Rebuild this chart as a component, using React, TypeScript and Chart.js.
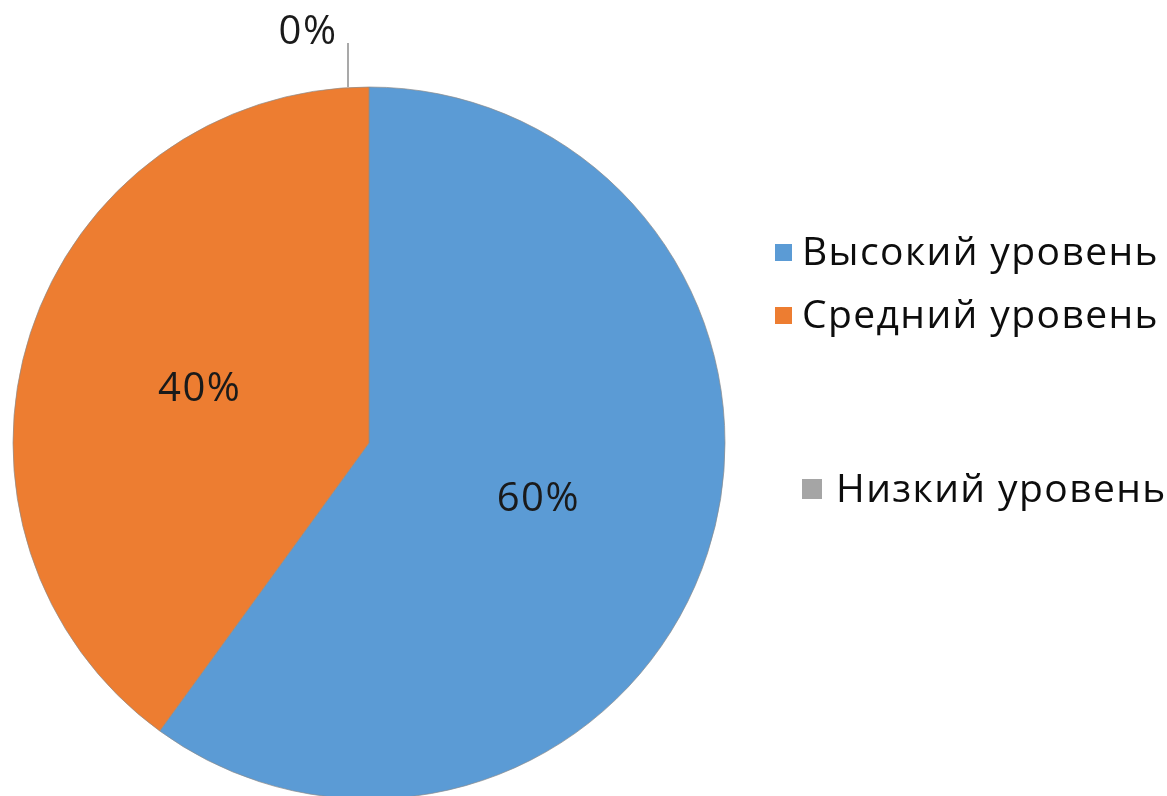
import React, { useEffect, useRef } from "react";
import { Chart, registerables } from "chart.js";

Chart.register(...registerables);

const categories = ["Высокий уровень", "Средний уровень", "Низкий уровень"];
const values = [60, 40, 0];
const labelsText = ["60%", "40%", "0%"];
const colors = ["#5B9BD5", "#ED7D31", "#A5A5A5"];

const FONT = '"Open Sans", "Noto Sans", sans-serif';

const labelPlugin = {
  id: "sliceLabels",
  afterDatasetsDraw(chart: any) {
    const ctx = chart.ctx;
    const meta = chart.getDatasetMeta(0);
    ctx.save();
    ctx.font = `40px ${FONT}`;
    (ctx as any).letterSpacing = "1.5px";
    ctx.fillStyle = "#1a1a1a";
    ctx.textAlign = "center";
    ctx.textBaseline = "middle";
    meta.data.forEach((arc: any, i: number) => {
      const { x, y, startAngle, endAngle, outerRadius } = arc.getProps(
        ["x", "y", "startAngle", "endAngle", "outerRadius"],
        true
      );
      const mid = (startAngle + endAngle) / 2;
      if (values[i] > 0) {
        const r = outerRadius * 0.5;
        ctx.fillText(labelsText[i], x + Math.cos(mid) * r, y + Math.sin(mid) * r + 2);
      } else {
        const px = x + Math.cos(mid) * outerRadius - 21;
        const py = y + Math.sin(mid) * outerRadius;
        ctx.strokeStyle = "#8c8c8c";
        ctx.lineWidth = 1.5;
        ctx.beginPath();
        ctx.moveTo(px, py);
        ctx.lineTo(px, py - 44);
        ctx.stroke();
        ctx.fillText(labelsText[i], px - 40, py - 54);
      }
    });
    ctx.restore();
  },
};

const legendLayout = [
  { sx: 775, sy: 244, s: 17, tx: 802, ty: 254 },
  { sx: 775, sy: 307, s: 17, tx: 802, ty: 317 },
  { sx: 802, sy: 479, s: 20, tx: 836, ty: 491 },
];

const legendPlugin = {
  id: "customLegend",
  afterDraw(chart: any) {
    const ctx = chart.ctx;
    ctx.save();
    ctx.font = `39px ${FONT}`;
    (ctx as any).letterSpacing = "1.4px";
    ctx.textAlign = "left";
    ctx.textBaseline = "middle";
    categories.forEach((c, i) => {
      const l = legendLayout[i];
      ctx.fillStyle = colors[i];
      ctx.fillRect(l.sx, l.sy, l.s, l.s);
      ctx.fillStyle = "#0d0d0d";
      ctx.fillText(c, l.tx, l.ty);
    });
    ctx.restore();
  },
};

export default function App() {
  const ref = useRef<HTMLCanvasElement | null>(null);
  useEffect(() => {
    if (!ref.current) return;
    const chart = new Chart(ref.current, {
      type: "pie",
      data: {
        labels: categories,
        datasets: [
          {
            data: values,
            backgroundColor: colors,
            borderColor: "rgba(140,140,140,0.7)",
            borderWidth: 1,
          },
        ],
      },
      options: {
        animation: false,
        responsive: false,
        maintainAspectRatio: false,
        radius: 356,
        layout: { padding: { left: 13, right: 442, top: 90, bottom: 0 } },
        plugins: {
          legend: { display: false },
          tooltip: { enabled: false },
        },
      } as any,
      plugins: [labelPlugin, legendPlugin],
    });
    return () => chart.destroy();
  }, []);
  return (
    <div style={{ position: "fixed", left: 0, top: 0, width: 1167, height: 796, background: "#fff" }}>
      <canvas ref={ref} width={1167} height={796} style={{ width: 1167, height: 796 }} />
    </div>
  );
}
